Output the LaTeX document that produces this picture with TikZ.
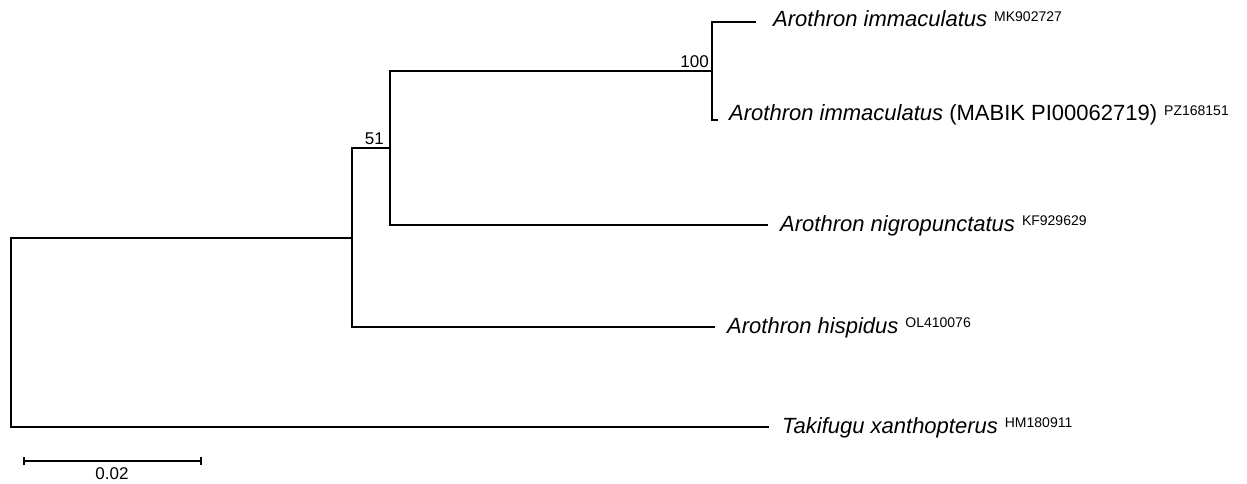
\documentclass[tikz,border=0pt]{standalone}
\usepackage{fontspec}
\setmainfont{Liberation Sans}
\newcommand\acc[1]{\hspace{7pt}\raisebox{5.5pt}{\fontsize{14}{16}\selectfont #1}}
\begin{document}
\begin{tikzpicture}[x=1pt,y=-1pt,
  branch/.style={line width=2pt, line join=miter},
  taxon/.style={anchor=base west, inner sep=0pt, font=\fontsize{22}{26}\selectfont},
  support/.style={anchor=base east, inner sep=0pt, font=\fontsize{17}{20}\selectfont}]
\useasboundingbox (0,0) rectangle (1247,484);
% internal nodes
\coordinate (root) at (11,332);
\coordinate (nA) at (352,237.5);
\coordinate (n51) at (390,148);
\coordinate (n100) at (712,71);
% tips
\coordinate (tMK) at (756,22);
\coordinate (tPZ) at (718,120);
\coordinate (tNig) at (768,225);
\coordinate (tHis) at (715,327);
\coordinate (tTak) at (769,427);
% branches
\draw[branch] (root) |- (nA);
\draw[branch] (root) |- (tTak);
\draw[branch] (nA) |- (n51);
\draw[branch] (nA) |- (tHis);
\draw[branch] (n51) |- (n100);
\draw[branch] (n51) |- (tNig);
\draw[branch] (n100) |- (tMK);
\draw[branch] (n100) |- (tPZ);
% labels
\node[taxon] (lMK) at (773,27) {\textit{Arothron immaculatus}\acc{MK902727}};
\node[taxon] (lPZ) at (729,121) {\textit{Arothron immaculatus} (MABIK PI00062719)\acc{PZ168151}};
\node[taxon] (lNig) at (780,231) {\textit{Arothron nigropunctatus}\acc{KF929629}};
\node[taxon] (lHis) at (727,333) {\textit{Arothron hispidus}\acc{OL410076}};
\node[taxon] (lTak) at (782,433) {\textit{Takifugu xanthopterus}\acc{HM180911}};
% support values
\node[support] (s100) at (709,68) {100};
\node[support] (s51) at (384,145) {51};
% scale bar
\coordinate (sb1) at (24,461);
\coordinate (sb2) at (201,461);
\draw[branch] (sb1) -- (sb2);
\draw[line width=1.5pt] ([yshift=-4pt]sb1) -- ([yshift=4pt]sb1);
\draw[line width=1.5pt] ([yshift=-4pt]sb2) -- ([yshift=4pt]sb2);
\node[anchor=base, inner sep=0pt, font=\fontsize{17}{20}\selectfont] (sbl) at (112,479) {0.02};
\end{tikzpicture}
\end{document}
